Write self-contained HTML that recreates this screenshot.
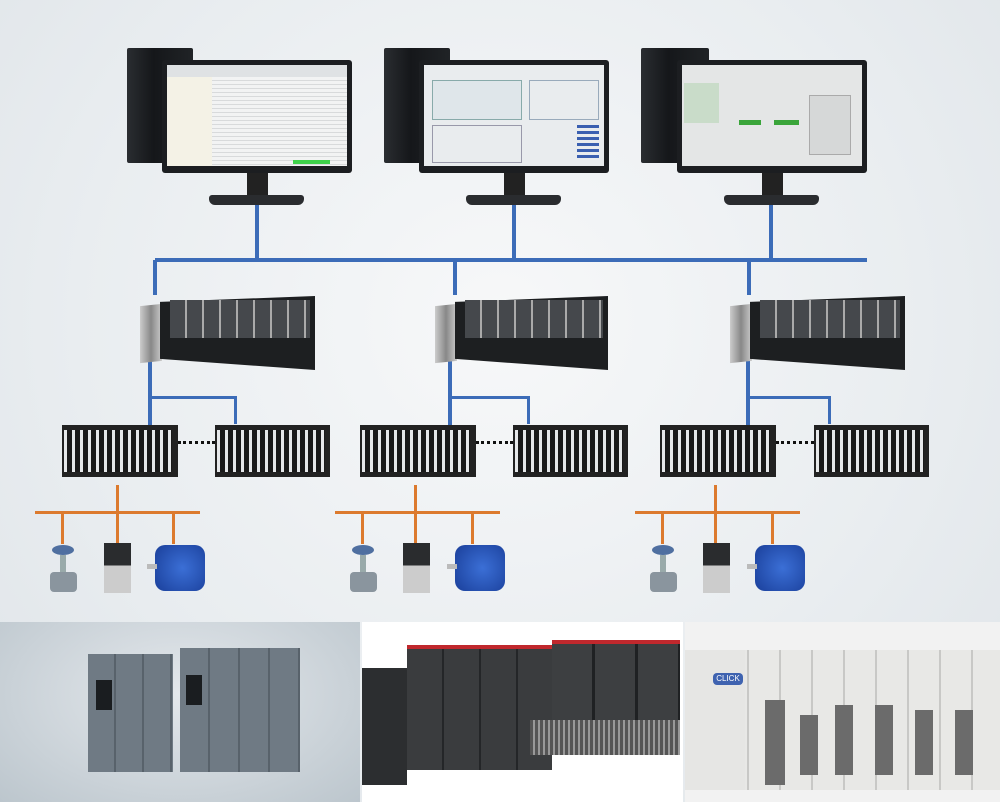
<!DOCTYPE html>
<html><head><meta charset="utf-8"><style>
*{margin:0;padding:0;box-sizing:border-box}
body{width:1000px;height:802px;overflow:hidden;position:relative;font-family:"Liberation Sans",sans-serif;background:radial-gradient(ellipse at 50% 40%,#f7f8f9 0%,#e9edf0 60%,#dfe4e8 100%)}
.a{position:absolute}
.tower{background:linear-gradient(90deg,#2a2d31,#15171a 40%,#202326);border-radius:2px}
.bez{background:#1c1e21;border-radius:3px}
.scr{background:#eef0f1}
.neck{background:#222}
.base{background:#2a2c2f;border-radius:3px 3px 6px 6px}
.bl{background:#3c6cb8}
.or{background:#dc7a2e}
.rack{background:#1d1f21}
.mod{background:linear-gradient(90deg,#55585c,#3a3c3f);border-right:1px solid #999}
.io{background:repeating-linear-gradient(90deg,#e6e8ea 0 3px,#1a1a1a 3px 8px)}
</style></head><body>

<!-- Monitors -->
<div class="a" style="left:0;top:0">
 <div class="a tower" style="left:127px;top:48px;width:66px;height:115px"></div>
 <div class="a bez" style="left:162px;top:60px;width:190px;height:113px"></div>
 <div class="a scr" style="left:167px;top:65px;width:180px;height:101px;background:repeating-linear-gradient(180deg,#f2f3f3 0 3px,#d8dadb 3px 4px)"></div>
 <div class="a" style="left:167px;top:65px;width:180px;height:12px;background:#dfe2e4"></div>
 <div class="a" style="left:167px;top:77px;width:45px;height:89px;background:#f4f2e6"></div>
 <div class="a" style="left:293px;top:160px;width:37px;height:4px;background:#3ed14a"></div>
 <div class="a neck" style="left:247px;top:173px;width:21px;height:23px"></div>
 <div class="a base" style="left:209px;top:195px;width:95px;height:10px"></div>
</div>
<div class="a" style="left:257px;top:0">
 <div class="a tower" style="left:127px;top:48px;width:66px;height:115px"></div>
 <div class="a bez" style="left:162px;top:60px;width:190px;height:113px"></div>
 <div class="a scr" style="left:167px;top:65px;width:180px;height:101px;background:#e9ecee"></div>
 <div class="a" style="left:175px;top:80px;width:90px;height:40px;border:1px solid #8aa;background:#dfe6ea"></div>
 <div class="a" style="left:272px;top:80px;width:70px;height:40px;border:1px solid #9ab"></div>
 <div class="a" style="left:175px;top:125px;width:90px;height:38px;border:1px solid #99a"></div>
 <div class="a" style="left:320px;top:125px;width:22px;height:35px;background:repeating-linear-gradient(180deg,#3a5fb0 0 3px,#e9ecee 3px 6px)"></div>
 <div class="a neck" style="left:247px;top:173px;width:21px;height:23px"></div>
 <div class="a base" style="left:209px;top:195px;width:95px;height:10px"></div>
</div>
<div class="a" style="left:514px;top:0">
 <div class="a tower" style="left:127px;top:48px;width:68px;height:115px"></div>
 <div class="a bez" style="left:163px;top:60px;width:190px;height:113px"></div>
 <div class="a scr" style="left:168px;top:65px;width:180px;height:101px;background:#e4e6e6"></div>
 <div class="a" style="left:170px;top:83px;width:35px;height:40px;background:#c9dcc9"></div>
 <div class="a" style="left:225px;top:120px;width:22px;height:5px;background:#3aa53a"></div>
 <div class="a" style="left:260px;top:120px;width:25px;height:5px;background:#3aa53a"></div>
 <div class="a" style="left:295px;top:95px;width:42px;height:60px;background:#d6d8d8;border:1px solid #aaa"></div>
 <div class="a neck" style="left:248px;top:173px;width:21px;height:23px"></div>
 <div class="a base" style="left:210px;top:195px;width:95px;height:10px"></div>
</div>

<!-- blue bus -->
<div class="a bl" style="left:155px;top:258px;width:712px;height:4px"></div>
<div class="a bl" style="left:255px;top:205px;width:4px;height:55px"></div>
<div class="a bl" style="left:512px;top:205px;width:4px;height:55px"></div>
<div class="a bl" style="left:769px;top:205px;width:4px;height:55px"></div>

<!-- groups -->
<div class="a" style="left:0;top:0">
 <div class="a bl" style="left:153px;top:260px;width:4px;height:35px"></div>
 <div class="a bl" style="left:148px;top:360px;width:4px;height:65px"></div>
 <div class="a bl" style="left:148px;top:396px;width:89px;height:3px"></div>
 <div class="a bl" style="left:234px;top:396px;width:3px;height:28px"></div>
 <div class="a" style="left:140px;top:305px;width:22px;height:57px;background:linear-gradient(90deg,#ccc,#888,#ccc);transform:skewY(-6deg)"></div>
 <div class="a rack" style="left:160px;top:296px;width:155px;height:74px;clip-path:polygon(0 8%,100% 0,100% 100%,0 85%)"></div>
 <div class="a" style="left:170px;top:300px;width:140px;height:38px;background:repeating-linear-gradient(90deg,#45484c 0 15px,#aaa 15px 17px)"></div>
 <div class="a" style="left:62px;top:425px;width:116px;height:52px;background:#222"></div>
 <div class="a io" style="left:64px;top:430px;width:108px;height:42px"></div>
 <div class="a" style="left:215px;top:425px;width:115px;height:52px;background:#222"></div>
 <div class="a io" style="left:217px;top:430px;width:108px;height:42px"></div>
 <div class="a" style="left:178px;top:441px;width:37px;border-top:3px dotted #111"></div>
 <div class="a or" style="left:116px;top:485px;width:3px;height:28px"></div>
 <div class="a or" style="left:35px;top:511px;width:165px;height:3px"></div>
 <div class="a or" style="left:61px;top:512px;width:3px;height:32px"></div>
 <div class="a or" style="left:116px;top:512px;width:3px;height:32px"></div>
 <div class="a or" style="left:172px;top:512px;width:3px;height:32px"></div>
 <div class="a" style="left:52px;top:545px;width:22px;height:10px;background:#4f6fa0;border-radius:50%"></div>
 <div class="a" style="left:60px;top:555px;width:6px;height:18px;background:#9aa"></div>
 <div class="a" style="left:50px;top:572px;width:27px;height:20px;background:#8a959e;border-radius:4px"></div>
 <div class="a" style="left:104px;top:543px;width:27px;height:50px;background:linear-gradient(180deg,#2a2c2e 0 45%,#ccc 45%)"></div>
 <div class="a" style="left:155px;top:545px;width:50px;height:46px;background:radial-gradient(circle at 55% 50%,#3b6fd6,#1a3f9a);border-radius:10px"></div>
 <div class="a" style="left:147px;top:564px;width:10px;height:5px;background:#bbb"></div>
</div>

<div class="a" style="left:295px;top:0">
 <div class="a bl" style="left:158px;top:260px;width:4px;height:35px"></div>
 <div class="a bl" style="left:153px;top:360px;width:4px;height:65px"></div>
 <div class="a bl" style="left:153px;top:396px;width:82px;height:3px"></div>
 <div class="a bl" style="left:232px;top:396px;width:3px;height:28px"></div>
 <div class="a" style="left:140px;top:305px;width:22px;height:57px;background:linear-gradient(90deg,#ccc,#888,#ccc);transform:skewY(-6deg)"></div>
 <div class="a rack" style="left:160px;top:296px;width:153px;height:74px;clip-path:polygon(0 8%,100% 0,100% 100%,0 85%)"></div>
 <div class="a" style="left:170px;top:300px;width:138px;height:38px;background:repeating-linear-gradient(90deg,#45484c 0 15px,#aaa 15px 17px)"></div>
 <div class="a" style="left:65px;top:425px;width:116px;height:52px;background:#222"></div>
 <div class="a io" style="left:67px;top:430px;width:108px;height:42px"></div>
 <div class="a" style="left:218px;top:425px;width:115px;height:52px;background:#222"></div>
 <div class="a io" style="left:220px;top:430px;width:108px;height:42px"></div>
 <div class="a" style="left:181px;top:441px;width:37px;border-top:3px dotted #111"></div>
 <div class="a or" style="left:119px;top:485px;width:3px;height:28px"></div>
 <div class="a or" style="left:40px;top:511px;width:165px;height:3px"></div>
 <div class="a or" style="left:66px;top:512px;width:3px;height:32px"></div>
 <div class="a or" style="left:119px;top:512px;width:3px;height:32px"></div>
 <div class="a or" style="left:176px;top:512px;width:3px;height:32px"></div>
 <div class="a" style="left:57px;top:545px;width:22px;height:10px;background:#4f6fa0;border-radius:50%"></div>
 <div class="a" style="left:65px;top:555px;width:6px;height:18px;background:#9aa"></div>
 <div class="a" style="left:55px;top:572px;width:27px;height:20px;background:#8a959e;border-radius:4px"></div>
 <div class="a" style="left:108px;top:543px;width:27px;height:50px;background:linear-gradient(180deg,#2a2c2e 0 45%,#ccc 45%)"></div>
 <div class="a" style="left:160px;top:545px;width:50px;height:46px;background:radial-gradient(circle at 55% 50%,#3b6fd6,#1a3f9a);border-radius:10px"></div>
 <div class="a" style="left:152px;top:564px;width:10px;height:5px;background:#bbb"></div>
</div>

<div class="a" style="left:592px;top:0">
 <div class="a bl" style="left:155px;top:260px;width:4px;height:35px"></div>
 <div class="a bl" style="left:154px;top:360px;width:4px;height:65px"></div>
 <div class="a bl" style="left:154px;top:396px;width:85px;height:3px"></div>
 <div class="a bl" style="left:236px;top:396px;width:3px;height:28px"></div>
 <div class="a" style="left:138px;top:305px;width:22px;height:57px;background:linear-gradient(90deg,#ccc,#888,#ccc);transform:skewY(-6deg)"></div>
 <div class="a rack" style="left:158px;top:296px;width:155px;height:74px;clip-path:polygon(0 8%,100% 0,100% 100%,0 85%)"></div>
 <div class="a" style="left:168px;top:300px;width:140px;height:38px;background:repeating-linear-gradient(90deg,#45484c 0 15px,#aaa 15px 17px)"></div>
 <div class="a" style="left:68px;top:425px;width:116px;height:52px;background:#222"></div>
 <div class="a io" style="left:70px;top:430px;width:108px;height:42px"></div>
 <div class="a" style="left:222px;top:425px;width:115px;height:52px;background:#222"></div>
 <div class="a io" style="left:224px;top:430px;width:108px;height:42px"></div>
 <div class="a" style="left:184px;top:441px;width:38px;border-top:3px dotted #111"></div>
 <div class="a or" style="left:122px;top:485px;width:3px;height:28px"></div>
 <div class="a or" style="left:43px;top:511px;width:165px;height:3px"></div>
 <div class="a or" style="left:69px;top:512px;width:3px;height:32px"></div>
 <div class="a or" style="left:122px;top:512px;width:3px;height:32px"></div>
 <div class="a or" style="left:179px;top:512px;width:3px;height:32px"></div>
 <div class="a" style="left:60px;top:545px;width:22px;height:10px;background:#4f6fa0;border-radius:50%"></div>
 <div class="a" style="left:68px;top:555px;width:6px;height:18px;background:#9aa"></div>
 <div class="a" style="left:58px;top:572px;width:27px;height:20px;background:#8a959e;border-radius:4px"></div>
 <div class="a" style="left:111px;top:543px;width:27px;height:50px;background:linear-gradient(180deg,#2a2c2e 0 45%,#ccc 45%)"></div>
 <div class="a" style="left:163px;top:545px;width:50px;height:46px;background:radial-gradient(circle at 55% 50%,#3b6fd6,#1a3f9a);border-radius:10px"></div>
 <div class="a" style="left:155px;top:564px;width:10px;height:5px;background:#bbb"></div>
</div>

<!-- bottom photos -->
<div class="a" style="left:0;top:622px;width:360px;height:180px;background:radial-gradient(ellipse at 50% 40%,#e4e8ec,#bcc6cd)"></div>
<div class="a" style="left:88px;top:654px;width:85px;height:118px;background:repeating-linear-gradient(90deg,#6f7a84 0 26px,#58626b 26px 28px)"></div>
<div class="a" style="left:96px;top:680px;width:16px;height:30px;background:#1a1d20"></div>
<div class="a" style="left:180px;top:648px;width:120px;height:124px;background:repeating-linear-gradient(90deg,#6f7a84 0 28px,#58626b 28px 30px)"></div>
<div class="a" style="left:186px;top:675px;width:16px;height:30px;background:#1a1d20"></div>

<div class="a" style="left:362px;top:622px;width:321px;height:180px;background:#fff"></div>
<div class="a" style="left:362px;top:668px;width:45px;height:117px;background:#2c2e30"></div>
<div class="a" style="left:407px;top:645px;width:145px;height:125px;background:repeating-linear-gradient(90deg,#3a3c3e 0 35px,#242628 35px 37px)"></div>
<div class="a" style="left:407px;top:645px;width:145px;height:4px;background:#c0282d"></div>
<div class="a" style="left:552px;top:640px;width:128px;height:110px;background:repeating-linear-gradient(90deg,#3d3f41 0 40px,#1f2123 40px 43px)"></div>
<div class="a" style="left:552px;top:640px;width:128px;height:4px;background:#c0282d"></div>
<div class="a" style="left:530px;top:720px;width:150px;height:35px;background:repeating-linear-gradient(90deg,#555 0 3px,#999 3px 5px)"></div>

<div class="a" style="left:685px;top:622px;width:315px;height:180px;background:#f2f2f2"></div>
<div class="a" style="left:685px;top:650px;width:315px;height:140px;background:repeating-linear-gradient(90deg,#e8e8e6 0 30px,#c8c8c6 30px 32px)"></div>
<div class="a" style="left:685px;top:650px;width:60px;height:140px;background:#e6e6e4"></div>
<div class="a" style="left:713px;top:673px;width:30px;height:12px;background:#3f63b0;border-radius:4px;color:#fff;font-size:8px;text-align:center;line-height:12px">CLICK</div>
<div class="a" style="left:765px;top:700px;width:20px;height:85px;background:#6b6b6b"></div>
<div class="a" style="left:800px;top:715px;width:18px;height:60px;background:#6b6b6b"></div>
<div class="a" style="left:835px;top:705px;width:18px;height:70px;background:#6b6b6b"></div>
<div class="a" style="left:875px;top:705px;width:18px;height:70px;background:#6b6b6b"></div>
<div class="a" style="left:915px;top:710px;width:18px;height:65px;background:#6b6b6b"></div>
<div class="a" style="left:955px;top:710px;width:18px;height:65px;background:#6b6b6b"></div>
</body></html>
